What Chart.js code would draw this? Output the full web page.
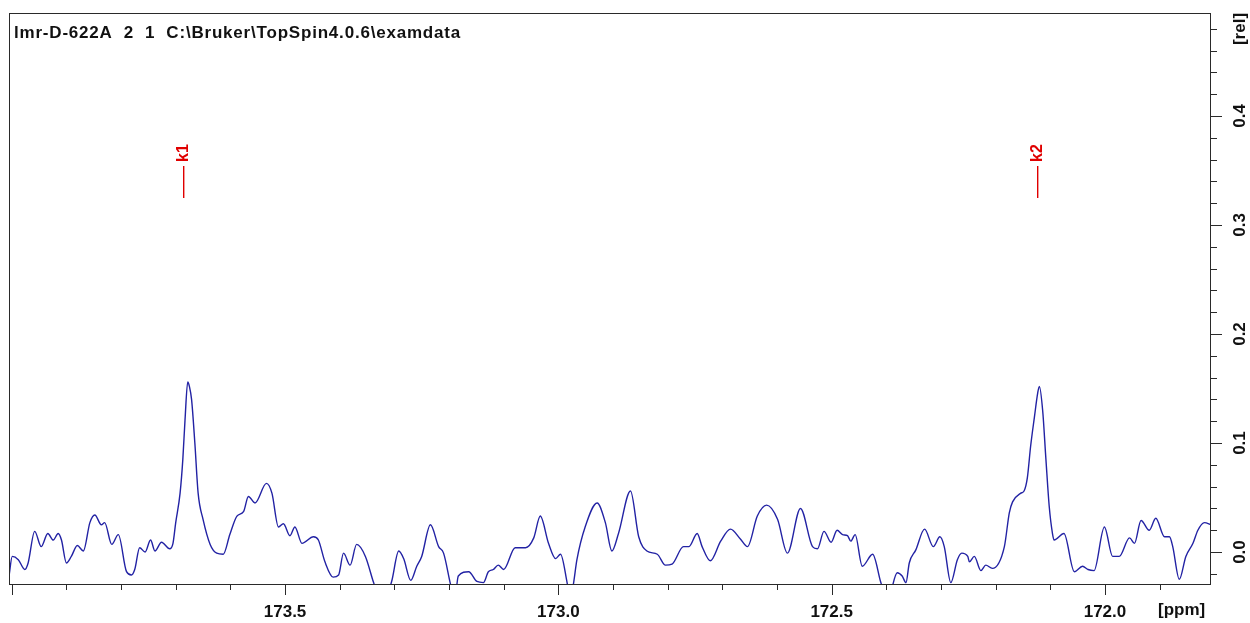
<!DOCTYPE html>
<html>
<head>
<meta charset="utf-8">
<script src="https://cdn.jsdelivr.net/npm/chart.js@4.4.1/dist/chart.umd.min.js"></script>
<style>
  html, body { margin: 0; padding: 0; background: #fff; }
  #wrap { width: 1250px; height: 623px; position: relative; }
</style>
</head>
<body>
<div id="wrap"><canvas id="c" width="1250" height="623"></canvas></div>
<script>
// ---- data (ppm, relative intensity) ----
const ppm = [
174.005,173.999,173.988,173.976,173.970,173.958,173.946,173.934,173.924,173.915,
173.909,173.900,173.891,173.880,173.869,173.857,173.848,173.836,173.830,173.817,
173.805,173.790,173.781,173.775,173.766,173.756,173.746,173.738,173.726,173.711,
173.705,173.700,173.692,173.687,173.683,173.678,173.675,173.671,173.665,173.659,
173.650,173.637,173.625,173.613,173.601,173.588,173.576,173.567,173.555,173.534,
173.524,173.512,173.503,173.491,173.482,173.469,173.448,173.439,173.427,173.412,
173.402,173.393,173.381,173.369,173.353,173.338,173.322,173.305,173.292,173.283,
173.270,173.259,173.250,173.234,173.219,173.210,173.198,173.190,173.183,173.164,
173.149,173.137,173.128,173.119,173.110,173.100,173.079,173.060,173.045,173.033,
173.018,173.005,172.996,172.984,172.978,172.972,172.966,172.951,172.929,172.914,
172.902,172.890,172.868,172.853,172.838,172.819,172.804,172.792,172.771,172.761,
172.746,172.737,172.722,172.703,172.685,172.667,172.654,172.636,172.619,172.599,
172.581,172.557,172.535,172.526,172.514,172.501,172.490,172.480,172.471,172.465,
172.457,172.444,172.425,172.410,172.398,172.380,172.371,172.364,172.358,172.346,
172.330,172.314,172.302,172.294,172.282,172.270,172.262,172.251,172.248,172.239,
172.227,172.218,172.206,172.184,172.175,172.169,172.154,172.148,172.142,172.136,
172.129,172.123,172.120,172.114,172.108,172.102,172.096,172.093,172.075,172.056,
172.041,172.031,172.020,172.001,171.986,171.974,171.955,171.946,171.934,171.919,
171.907,171.891,171.882,171.876,171.864,171.852,171.839,171.830,171.818,171.806
];
const rel = [
-0.022,-0.004,-0.007,-0.016,-0.010,0.019,0.005,0.017,0.011,0.017,
0.011,-0.010,-0.004,0.006,0.001,0.027,0.034,0.025,0.027,0.007,
0.016,-0.018,-0.021,-0.016,0.004,0.000,0.011,0.001,0.009,0.003,
0.008,0.027,0.054,0.085,0.121,0.156,0.152,0.140,0.100,0.054,
0.030,0.007,-0.001,-0.002,0.016,0.033,0.037,0.051,0.045,0.063,
0.054,0.023,0.026,0.015,0.023,0.008,0.014,0.011,-0.009,-0.023,
-0.021,-0.001,-0.012,0.007,-0.004,-0.028,-0.050,-0.027,0.001,-0.006,
-0.026,-0.013,-0.004,0.025,0.005,-0.001,-0.028,-0.045,-0.022,-0.018,
-0.027,-0.028,-0.018,-0.016,-0.012,-0.016,0.004,0.004,0.013,0.033,
0.008,-0.006,-0.002,-0.028,-0.045,-0.028,-0.007,0.023,0.045,0.027,
0.001,0.017,0.056,0.014,0.001,-0.002,-0.012,-0.011,0.005,0.005,
0.017,0.005,-0.008,0.010,0.021,0.012,0.005,0.033,0.043,0.030,
-0.001,0.040,0.005,0.003,0.019,0.009,0.020,0.016,0.015,0.010,
0.016,-0.013,-0.002,-0.028,-0.045,-0.019,-0.022,-0.028,-0.010,0.002,
0.021,0.005,0.014,0.005,-0.028,-0.007,-0.001,-0.004,-0.009,-0.004,
-0.017,-0.012,-0.015,0.005,0.036,0.046,0.054,0.056,0.068,0.097,
0.124,0.146,0.152,0.130,0.085,0.042,0.017,0.011,0.017,-0.018,
-0.013,-0.016,-0.017,0.023,-0.004,-0.004,0.013,0.008,0.029,0.020,
0.031,0.014,0.014,0.005,-0.025,-0.004,0.008,0.020,0.027,0.025
];
// axis ticks / labels
const xLabels = [173.5, 173.0, 172.5, 172.0];
const yLabels = [0.0, 0.1, 0.2, 0.3, 0.4];
const xRange = [171.806, 174.005];
const yRange = [-0.0293, 0.4944];
// peak markers
const peakNames = ['k1', 'k2'];
const peakPpm = [173.687, 172.125];
const titleText = 'lmr-D-622A  2  1  C:\\Bruker\\TopSpin4.0.6\\examdata';

const FONT = '"Liberation Sans", Arial, sans-serif';

const decor = {
  id: 'decor',
  afterDraw(chart) {
    const ctx = chart.ctx, a = chart.chartArea;
    const xs = chart.scales.x, ys = chart.scales.y;
    ctx.save();
    // frame
    ctx.strokeStyle = '#2a2a2a';
    ctx.lineWidth = 1;
    ctx.strokeRect(Math.round(a.left) + 0.5, Math.round(a.top) + 0.5,
                   Math.round(a.right - a.left) - 1, Math.round(a.bottom - a.top));
    // x ticks every 0.1 ppm
    ctx.beginPath();
    for (let i = 0; i <= 22; i++) {
      const v = +(174.0 - i * 0.1).toFixed(2);
      if (v < xRange[0]) break;
      const px = Math.round(xs.getPixelForValue(v)) + 0.5;
      const major = Math.abs(v * 2 - Math.round(v * 2)) < 1e-6;
      ctx.moveTo(px, a.bottom);
      ctx.lineTo(px, a.bottom + (major ? 11 : 6));
    }
    // y ticks every 0.02
    for (let i = -1; i <= 24; i++) {
      const v = i * 0.02;
      const py = Math.round(ys.getPixelForValue(v)) + 0.5;
      const major = i % 5 === 0;
      ctx.moveTo(a.right, py);
      ctx.lineTo(a.right + (major ? 11 : 6), py);
    }
    ctx.stroke();
    // y labels rotated
    ctx.fillStyle = '#111';
    ctx.font = 'bold 17px ' + FONT;
    ctx.textAlign = 'center';
    ctx.textBaseline = 'middle';
    const lx = a.right + 28;
    yLabels.forEach(v => {
      const py = ys.getPixelForValue(v);
      ctx.save();
      ctx.translate(lx, py);
      ctx.rotate(-Math.PI / 2);
      ctx.fillText(v.toFixed(1), 0, 1);
      ctx.restore();
    });
    ctx.save();
    ctx.translate(lx, 29);
    ctx.rotate(-Math.PI / 2);
    ctx.fillText('[rel]', 0, 1);
    ctx.restore();
    // x unit
    ctx.textAlign = 'left';
    ctx.fillText('[ppm]', 1158, 610);
    // title
    ctx.font = 'bold 17px ' + FONT;
    ctx.textBaseline = 'alphabetic';
    if ('letterSpacing' in ctx) ctx.letterSpacing = '0.8px';
    ctx.fillText(titleText, 14, 37.5);
    if ('letterSpacing' in ctx) ctx.letterSpacing = '0px';
    // peak markers
    ctx.fillStyle = '#e00000';
    ctx.font = 'bold 16px ' + FONT;
    ctx.textAlign = 'center';
    ctx.textBaseline = 'middle';
    peakNames.forEach((n, i) => {
      const px = Math.round(xs.getPixelForValue(peakPpm[i]));
      ctx.fillRect(px, 166, 1.4, 32);
      ctx.save();
      ctx.translate(px + 0.7, 153);
      ctx.rotate(-Math.PI / 2);
      ctx.fillText(n, 0, 0);
      ctx.restore();
    });
    ctx.restore();
  }
};

new Chart(document.getElementById('c'), {
  type: 'line',
  data: {
    datasets: [{
      data: ppm.map((p, i) => ({ x: p, y: rel[i] })),
      borderColor: '#2222a4',
      borderWidth: 1.4,
      pointRadius: 0,
      cubicInterpolationMode: 'monotone',
      fill: false
    }]
  },
  options: {
    responsive: false,
    animation: false,
    layout: { padding: { left: 9, top: 13, right: 0, bottom: 0 } },
    plugins: { legend: { display: false }, tooltip: { enabled: false }, title: { display: false } },
    scales: {
      x: {
        type: 'linear',
        reverse: true,
        min: xRange[0], max: xRange[1],
        grid: { display: false },
        border: { display: false },
        afterBuildTicks: s => { s.ticks = xLabels.map(v => ({ value: v })); },
        afterFit: s => { s.height = 39; },
        ticks: {
          autoSkip: false, maxRotation: 0, minRotation: 0,
          padding: 10,
          color: '#111',
          font: { family: FONT, size: 17, weight: 'bold' },
          callback: v => Number(v).toFixed(1)
        }
      },
      y: {
        type: 'linear',
        position: 'right',
        min: yRange[0], max: yRange[1],
        grid: { display: false },
        border: { display: false },
        ticks: { display: false },
        afterFit: s => { s.width = 39; }
      }
    }
  },
  plugins: [decor]
});
</script>
</body>
</html>
